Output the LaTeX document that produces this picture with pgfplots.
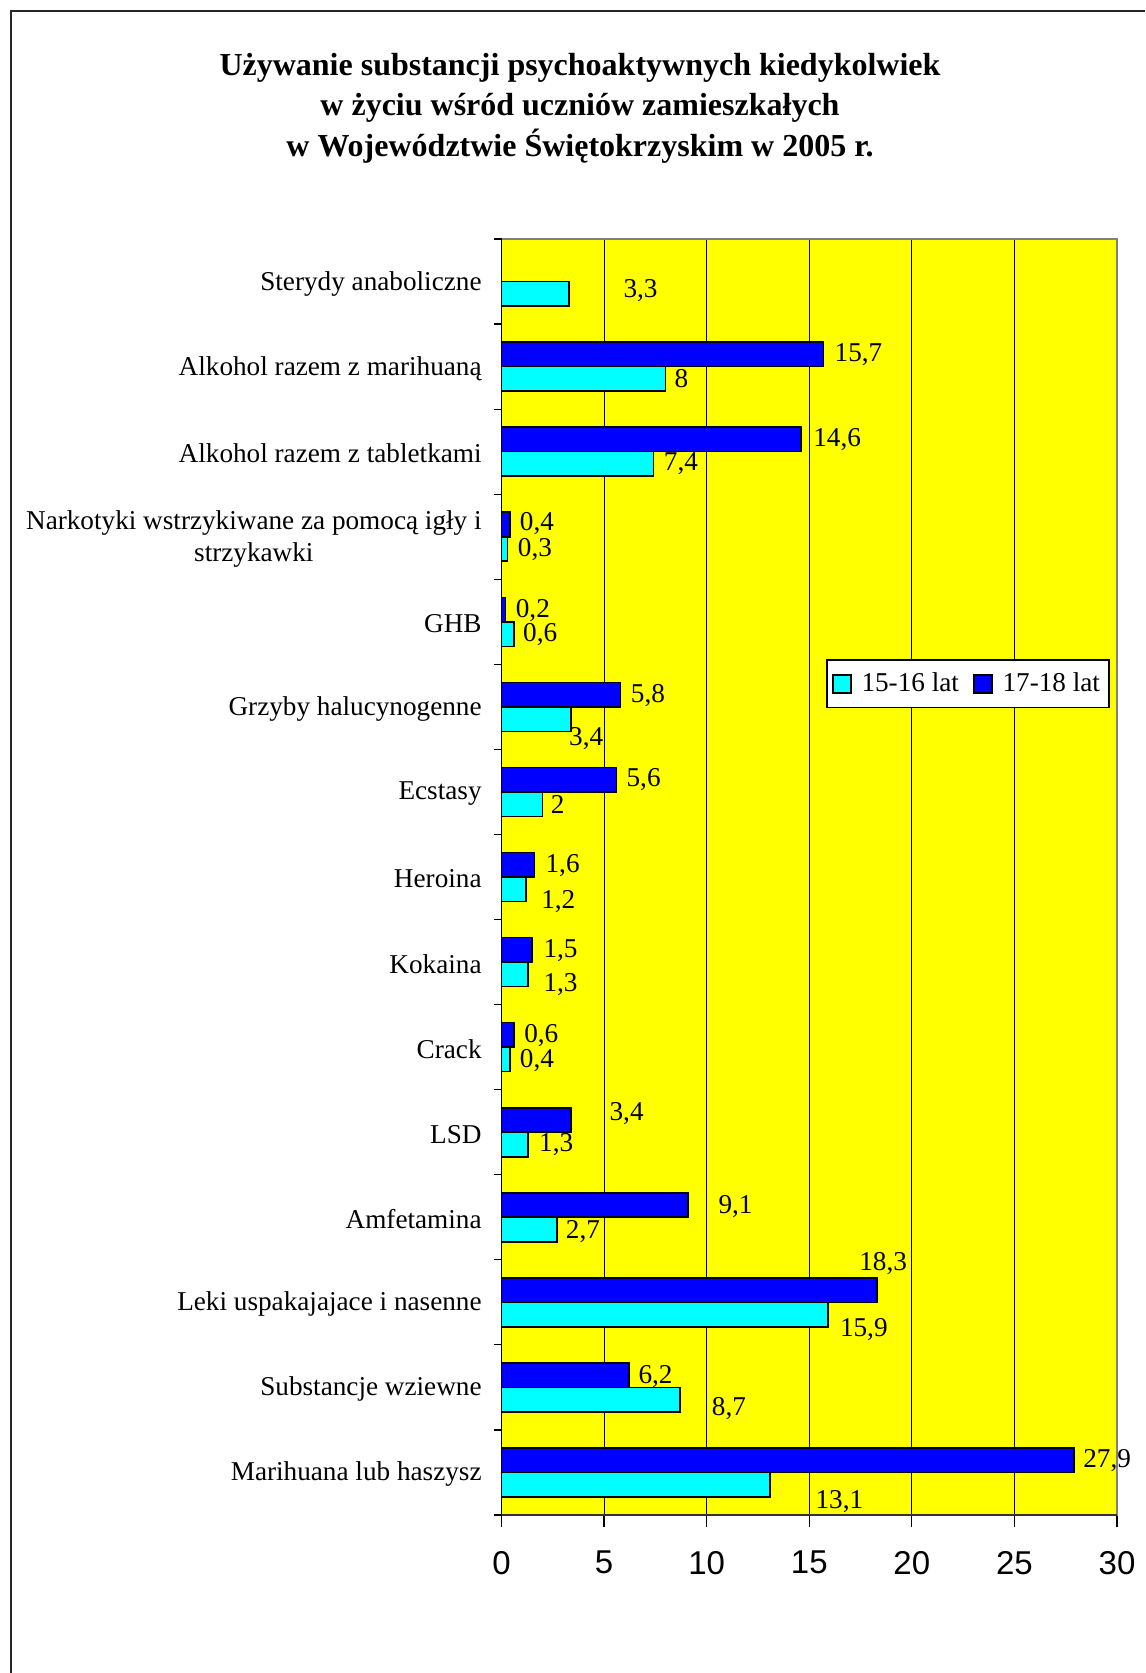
\documentclass[border=0pt]{standalone}
\usepackage{fontspec}
\setmainfont{Liberation Serif}
\setsansfont{Liberation Sans}
\usepackage{pgfplots}
\usepackage{pgfplotstable}
\pgfplotsset{compat=1.18}
\definecolor{cyanbar}{RGB}{0,255,255}
\definecolor{bluebar}{RGB}{0,0,255}
\definecolor{plotbg}{RGB}{255,255,0}
\pgfplotstableread{
x y label
5.93 13.898 3,3
16.22 13.146 15,7
8.42 12.858 8
15.18 12.143 14,6
7.90 11.854 7,4
0.88 11.152 0,4
0.78 10.851 0,3
0.68 10.136 0,2
1.04 9.847 0,6
6.29 9.132 5,8
3.28 8.631 3,4
6.08 8.142 5,6
2.39 7.853 2
2.13 7.138 1,6
1.92 6.712 1,2
2.03 6.135 1,5
2.03 5.734 1,3
1.09 5.132 0,6
0.88 4.843 0,4
5.25 4.216 3,4
1.82 3.852 1,3
10.56 3.125 9,1
3.12 2.836 2,7
17.42 2.460 18,3
16.48 1.682 15,9
6.66 1.130 6,2
10.24 0.754 8,7
28.34 0.140 27,9
15.29 -0.337 13,1
}\labels
\newcommand{\lblfont}{\fontsize{13.6}{16}\selectfont}
\begin{document}
\begin{tikzpicture}
\node[align=center, font=\bfseries\fontsize{16}{20.25}\selectfont] at (290pt,-54pt)
 {Używanie substancji psychoaktywnych kiedykolwiek\\w życiu wśród uczniów zamieszkałych\\w Województwie Świętokrzyskim w 2005 r.};
\draw[line width=0.9pt, black!85] (5.5pt,-836.5pt) -- (5.5pt,-5.5pt) -- (572.5pt,-5.5pt);
\begin{axis}[
 at={(250.75pt,-757.5pt)}, anchor=south west,
 scale only axis, width=307.75pt, height=638pt,
 xmin=0, xmax=30, ymin=-0.5, ymax=14.5,
 axis background/.style={fill=plotbg},
 axis line style={draw=gray, line width=0.8pt},
 xtick={0,5,...,30}, xtick pos=bottom, ytick pos=left,
 xmajorgrids, major grid style={black, line width=0.5pt},
 tick align=outside, major tick length=6pt,
 x tick style={black, line width=0.6pt},
 ytick={0,...,14},
 y tick style={draw=none},
 yticklabels={Marihuana lub haszysz, Substancje wziewne, Leki uspakajajace i nasenne, Amfetamina, LSD, Crack, Kokaina, Heroina, Ecstasy, Grzyby halucynogenne, GHB, {Narkotyki wstrzykiwane za pomocą igły i\\strzykawki}, Alkohol razem z tabletkami, Alkohol razem z marihuaną, Sterydy anaboliczne},
 yticklabel style={font=\lblfont, align=center, anchor=east, inner sep=0pt, xshift=-3.75pt, yshift=-1pt},
 xticklabel style={font=\sffamily\fontsize{16.5}{19}\selectfont, yshift=-8.5pt},
 /pgf/number format/assume math mode=true,
 clip=false,
 legend style={at={(0.988,0.6706)}, anchor=north east, legend columns=2, draw=black, line width=0.6pt, fill=white, font=\lblfont, inner xsep=2.5pt, inner ysep=4.5pt,
   /tikz/every odd column/.append style={column sep=3pt},
   /tikz/every even column/.append style={column sep=5pt}},
 legend image code/.code={\draw[#1, line width=0.8pt] (0pt,-4.5pt) rectangle (9pt,4.5pt);},
]
\addplot[xbar, bar width=0.288, bar shift=-0.144, fill=cyanbar, draw=black, line width=0.8pt] coordinates {
 (13.1,0) (8.7,1) (15.9,2) (2.7,3) (1.3,4) (0.4,5) (1.3,6) (1.2,7) (2,8) (3.4,9) (0.6,10) (0.3,11) (7.4,12) (8,13) (3.3,14)};
\addlegendentry{15-16 lat}
\addplot[xbar, bar width=0.288, bar shift=0.144, fill=bluebar, draw=black, line width=0.8pt] coordinates {
 (27.9,0) (6.2,1) (18.3,2) (9.1,3) (3.4,4) (0.6,5) (1.5,6) (1.6,7) (5.6,8) (5.8,9) (0.2,10) (0.4,11) (14.6,12) (15.7,13)};
\addlegendentry{17-18 lat}
\addplot[draw=none, forget plot, nodes near coords, point meta=explicit symbolic,
 nodes near coords style={anchor=west, inner sep=0pt, font=\lblfont, black}]
 table[x=x, y=y, meta=label] {\labels};
\pgfplotsinvokeforeach{-0.5,0.5,...,14.5}{\draw[black, line width=0.6pt] (axis cs:0,#1) -- ++(-4pt,0pt);}
\draw[black, line width=0.8pt] (rel axis cs:0,0) -- (rel axis cs:0,1);
\draw[gray!40!black, line width=0.8pt] (rel axis cs:0,0) -- (rel axis cs:1,0);
\end{axis}
\pgfresetboundingbox
\useasboundingbox (0,0) rectangle (572.5pt,-836.5pt);
\end{tikzpicture}
\end{document}
